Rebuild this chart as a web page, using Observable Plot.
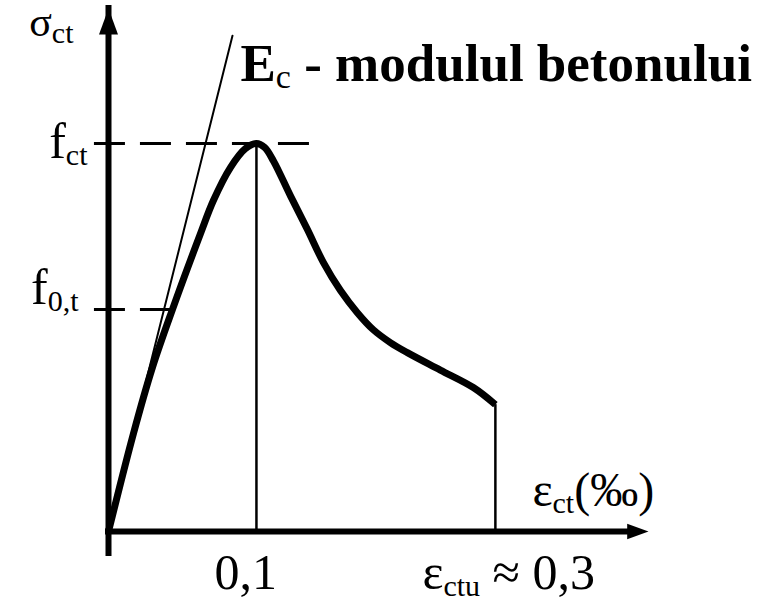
<!DOCTYPE html>
<html>
<head>
<meta charset="utf-8">
<script src="https://cdn.jsdelivr.net/npm/d3@7"></script>
<script src="https://cdn.jsdelivr.net/npm/@observablehq/plot@0.6"></script>
<style>
  html, body { margin: 0; padding: 0; background: #fff; }
  svg text { white-space: pre; }
</style>
</head>
<body>
<div id="chart"></div>
<script>
// ---- data ----
const strainMax = 0.365;          // end of strain axis (‰)
const stressMax = 1.348;          // end of stress axis (relative to f_ct)
const curveStrain = [0, 0.0169, 0.0297, 0.0432, 0.0622, 0.0709, 0.0824, 0.0926, 0.1, 0.1055, 0.1115, 0.123, 0.1345, 0.1453, 0.1568, 0.1682, 0.179, 0.1905, 0.202, 0.2243, 0.2466, 0.2615];
const curveStress = [0, 0.253, 0.423, 0.572, 0.768, 0.853, 0.938, 0.987, 1.0, 0.99, 0.955, 0.865, 0.778, 0.693, 0.621, 0.564, 0.52, 0.487, 0.461, 0.416, 0.371, 0.327];
const tangentStrain = [0, 0.0838];
const tangentStress = [0, 1.278];
const peakStrain = 0.1, peakStress = 1.0;
const ultimateStrain = 0.2615, ultimateStress = 0.327;
const dashStart = -0.0095;
const dashEnds = [0.1365, 0.0426];           // fct, f0t dash ends
const xTickValues = [0.1, 0.2615];
const xTickLabels = ["0,1", "ε_{ctu} ≈ 0,3"];
const yTickValues = [1.0, 0.572];
const yTickLabels = ["f_{ct}", "f_{0,t}"];
const yAxisLabel = "σ_{ct}";
const xAxisLabel = "ε_{ct}(‰)";
const tangentLabel = "E_{c} - modulul betonului";

const curve = curveStrain.map((x, i) => ({x, y: curveStress[i]}));
const tangent = tangentStrain.map((x, i) => ({x, y: tangentStress[i]}));

// arrowhead symbol: tip at origin, pointing up
const arrowHead = {
  draw(context, size) {
    const u = Math.sqrt(size / Math.PI);
    context.moveTo(0, 0);
    context.lineTo(0.95 * u, 2.6 * u);
    context.lineTo(-0.95 * u, 2.6 * u);
    context.closePath();
  }
};

const font = "Liberation Serif";
const txt = (text, x, y, o) => Plot.text([{x, y, text}], {x: "x", y: "y", text: "text", lineAnchor: "bottom", fill: "black", fontFamily: font, ...o});

const plot = Plot.plot({
  width: 758,
  height: 603,
  margin: 0,
  x: {domain: [0, strainMax], range: [108, 648], axis: null},
  y: {domain: [0, stressMax], range: [531, 8], axis: null},
  style: {background: "white", fontFamily: font, color: "black"},
  marks: [
    // dashed reference levels
    Plot.ruleY([yTickValues[0]], {x1: dashStart, x2: dashEnds[0], stroke: "black", strokeWidth: 3, strokeDasharray: "31,15"}),
    Plot.ruleY([yTickValues[1]], {x1: dashStart, x2: dashEnds[1], stroke: "black", strokeWidth: 3, strokeDasharray: "31,15"}),
    // verticals at peak and ultimate strain
    Plot.ruleX([peakStrain], {y1: 0, y2: peakStress, stroke: "black", strokeWidth: 2.5}),
    Plot.ruleX([ultimateStrain], {y1: 0, y2: ultimateStress, stroke: "black", strokeWidth: 2.5}),
    // tangent (Ec)
    Plot.line(tangent, {x: "x", y: "y", stroke: "black", strokeWidth: 2}),
    // stress-strain curve
    Plot.line(curve, {x: "x", y: "y", stroke: "black", strokeWidth: 7, curve: "catmull-rom", strokeLinejoin: "round", strokeLinecap: "butt"}),
    // axes
    Plot.ruleX([0], {y1: 0, y2: stressMax, insetTop: 22, stroke: "black", strokeWidth: 6, strokeLinecap: "square"}),
    Plot.ruleY([0], {x1: 0, x2: strainMax, insetRight: 18, stroke: "black", strokeWidth: 6, strokeLinecap: "square"}),
    Plot.dot([{x: 0, y: stressMax}], {x: "x", y: "y", symbol: arrowHead, r: 10, fill: "black", stroke: "none"}),
    Plot.dot([{x: strainMax, y: 0}], {x: "x", y: "y", symbol: arrowHead, r: 8.2, rotate: 90, fill: "black", stroke: "none"}),
    // labels
    txt(yAxisLabel, 0, stressMax, {textAnchor: "end", dx: -35, dy: 27, fontSize: 42}),
    txt(yTickLabels[0], 0, yTickValues[0], {textAnchor: "end", dx: -21, dy: 14, fontSize: 50}),
    txt(yTickLabels[1], 0, yTickValues[1], {textAnchor: "end", dx: -30, dy: -6, fontSize: 50}),
    txt(xTickLabels[0], xTickValues[0], 0, {textAnchor: "start", dx: -42, dy: 57, fontSize: 50}),
    txt(xTickLabels[1], xTickValues[1], 0, {textAnchor: "start", dx: -73, dy: 57, fontSize: 50}),
    txt(xAxisLabel, ultimateStrain, 0, {textAnchor: "start", dx: 37, dy: -26, fontSize: 48}),
    txt(tangentLabel, tangentStrain[1], tangentStress[1], {textAnchor: "start", dx: 8, dy: 45, fontSize: 53, fontWeight: "bold"})
  ]
});

// turn "_{...}" into real subscript tspans
plot.querySelectorAll("text").forEach(t => {
  const s = t.textContent;
  if (!s.includes("_{")) return;
  const g = t.closest("[font-size]");
  const fs = g ? parseFloat(g.getAttribute("font-size")) : 50;
  const subSize = fs >= 53 ? 34 : 30;
  const shift = 7;
  while (t.firstChild) t.removeChild(t.firstChild);
  const re = /_\{([^}]*)\}/g;
  let last = 0, m, lowered = false;
  const ns = "http://www.w3.org/2000/svg";
  while ((m = re.exec(s))) {
    if (m.index > last) {
      const a = document.createElementNS(ns, "tspan");
      if (lowered) { a.setAttribute("dy", -shift); lowered = false; }
      a.textContent = s.slice(last, m.index);
      t.appendChild(a);
    }
    const b = document.createElementNS(ns, "tspan");
    b.setAttribute("dy", shift);
    b.setAttribute("font-size", subSize);
    b.setAttribute("font-weight", "normal");
    b.textContent = m[1];
    t.appendChild(b);
    lowered = true;
    last = re.lastIndex;
  }
  if (last < s.length) {
    const c = document.createElementNS(ns, "tspan");
    if (lowered) c.setAttribute("dy", -shift);
    c.textContent = s.slice(last);
    t.appendChild(c);
  }
});

document.getElementById("chart").appendChild(plot);
</script>
</body>
</html>
